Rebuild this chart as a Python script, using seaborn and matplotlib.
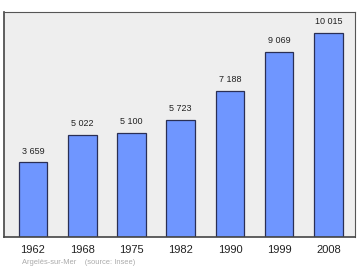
import matplotlib
matplotlib.use("Agg")
import matplotlib.pyplot as plt
import seaborn as sns
import pandas as pd

years = ["1962", "1968", "1975", "1982", "1990", "1999", "2008"]
population = [3659, 5022, 5100, 5723, 7188, 9069, 10015]
source_text = "Argelès-sur-Mer    (source: Insee)"

df = pd.DataFrame({"year": years, "pop": population})

sns.set_theme(style="white")
plt.rcParams['font.family'] = ['Liberation Sans', 'DejaVu Sans']

fig = plt.figure(figsize=(3.6, 2.7), dpi=100)
ax = fig.add_axes([0.011, 0.122, 0.975, 0.834])
ax.set_facecolor("#eeeeee")

sns.barplot(data=df, x="year", y="pop", color="#6f96ff", saturation=1,
            width=0.58, edgecolor="#2a2f55", linewidth=0.9, ax=ax)

labels = [f"{v:,}".replace(",", " ") for v in population]
ax.bar_label(ax.containers[0], labels=labels, padding=5, fontsize=6.5, color="#222222")

ax.set_ylim(0, 11050)
ax.set_xlim(-0.59, 6.54)
ax.set_xlabel("")
ax.set_ylabel("")
ax.set_yticks([])
ax.tick_params(axis="x", length=0, labelsize=8, pad=6, colors="#222222")
for side in ["left", "bottom"]:
    ax.spines[side].set_color("#444444")
    ax.spines[side].set_linewidth(1.2)
for side in ["top", "right"]:
    ax.spines[side].set_color("#555555")
    ax.spines[side].set_linewidth(0.8)

fig.text(22/360, 1 - 263/270, source_text, fontsize=5.4, color="#aaaaaa", va="center", ha="left")

fig.savefig("out.png", dpi=100)
